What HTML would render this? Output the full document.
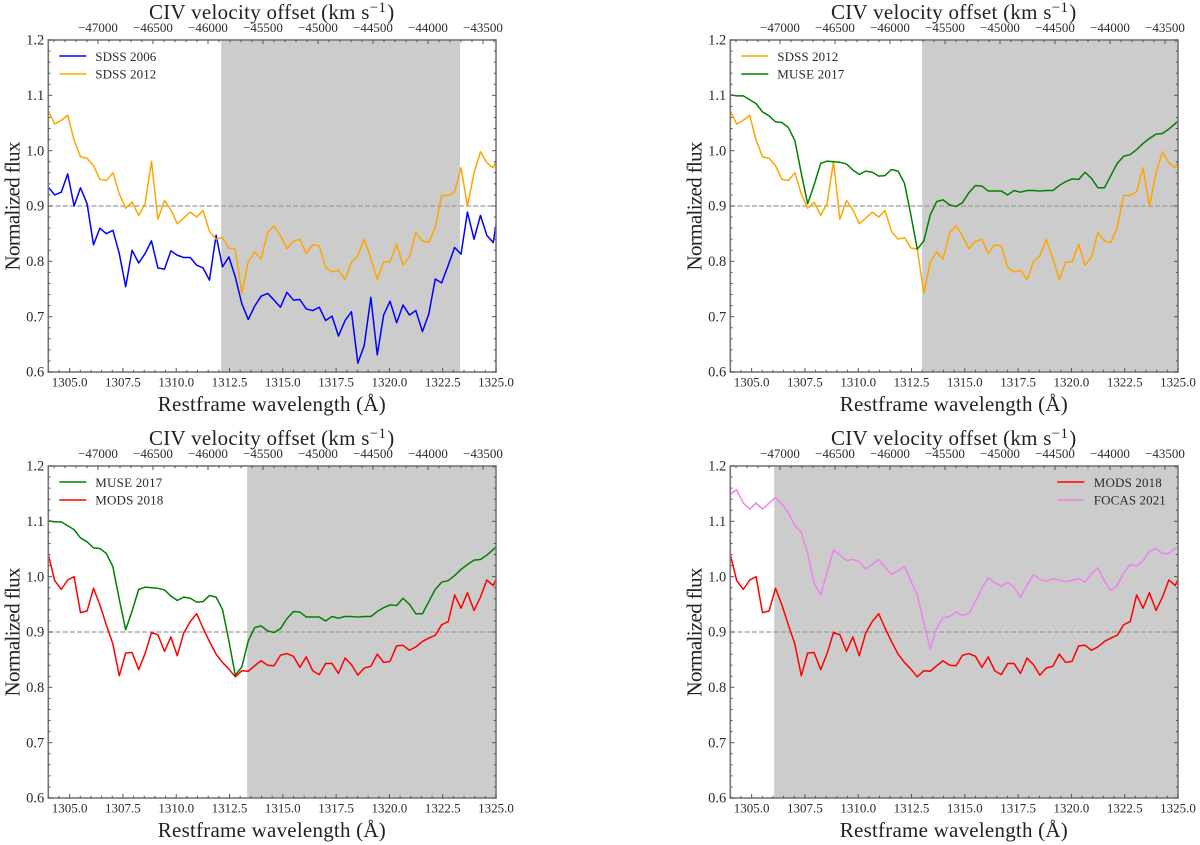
<!DOCTYPE html>
<html lang="en">
<head>
<meta charset="utf-8">
<title>CIV velocity offset spectra comparison</title>
<style>
  html, body { margin: 0; padding: 0; background: #fff; }
  svg { display: block; }
  text { font-family: "Liberation Serif", serif; fill: #222; }
  .title, .xlabel, .ylabel { font-size: 21px; }
  .legend-text { font-size: 13px; fill: #2a2a2a; }
</style>
</head>
<body>
<svg id="figure" xmlns="http://www.w3.org/2000/svg" width="1200" height="845" viewBox="0 0 1200 845">

  <g class="panel" transform="translate(48.3,40)">
    <g class="plot"></g>
    <text class="title" x="100.7" y="-21" textLength="237">CIV velocity offset (km s<tspan dy="-7" font-size="15">−1</tspan></text>
    <text class="title" x="339" y="-21">)</text>
    <text class="xlabel" x="223.5" y="371" text-anchor="middle" textLength="228">Restframe wavelength (Å)</text>
    <text class="ylabel" transform="translate(-29,166) rotate(-90)" text-anchor="middle" textLength="129">Normalized flux</text>
    <g>
      <line x1="11" x2="38" y1="16" y2="16" stroke="#0000ff" stroke-width="1.4"/>
      <text class="legend-text" x="47" y="21" textLength="61">SDSS 2006</text>
      <line x1="11" x2="38" y1="34" y2="34" stroke="#ffa500" stroke-width="1.4"/>
      <text class="legend-text" x="47" y="38.5" textLength="61">SDSS 2012</text>
    </g>
  </g>

  <g class="panel" transform="translate(730.3,40)">
    <g class="plot"></g>
    <text class="title" x="100.7" y="-21" textLength="237">CIV velocity offset (km s<tspan dy="-7" font-size="15">−1</tspan></text>
    <text class="title" x="339" y="-21">)</text>
    <text class="xlabel" x="223.5" y="371" text-anchor="middle" textLength="228">Restframe wavelength (Å)</text>
    <text class="ylabel" transform="translate(-29,166) rotate(-90)" text-anchor="middle" textLength="129">Normalized flux</text>
    <g>
      <line x1="11" x2="38" y1="16" y2="16" stroke="#ffa500" stroke-width="1.4"/>
      <text class="legend-text" x="47" y="21" textLength="61">SDSS 2012</text>
      <line x1="11" x2="38" y1="34" y2="34" stroke="#008000" stroke-width="1.4"/>
      <text class="legend-text" x="47" y="38.5" textLength="67">MUSE 2017</text>
    </g>
  </g>

  <g class="panel" transform="translate(48.3,466)">
    <g class="plot"></g>
    <text class="title" x="100.7" y="-21" textLength="237">CIV velocity offset (km s<tspan dy="-7" font-size="15">−1</tspan></text>
    <text class="title" x="339" y="-21">)</text>
    <text class="xlabel" x="223.5" y="371" text-anchor="middle" textLength="228">Restframe wavelength (Å)</text>
    <text class="ylabel" transform="translate(-29,166) rotate(-90)" text-anchor="middle" textLength="129">Normalized flux</text>
    <g>
      <line x1="11" x2="38" y1="16" y2="16" stroke="#008000" stroke-width="1.4"/>
      <text class="legend-text" x="47" y="21" textLength="67">MUSE 2017</text>
      <line x1="11" x2="38" y1="34" y2="34" stroke="#ff0000" stroke-width="1.4"/>
      <text class="legend-text" x="47" y="38.5" textLength="68">MODS 2018</text>
    </g>
  </g>

  <g class="panel" transform="translate(730.3,466)">
    <g class="plot"></g>
    <text class="title" x="100.7" y="-21" textLength="237">CIV velocity offset (km s<tspan dy="-7" font-size="15">−1</tspan></text>
    <text class="title" x="339" y="-21">)</text>
    <text class="xlabel" x="223.5" y="371" text-anchor="middle" textLength="228">Restframe wavelength (Å)</text>
    <text class="ylabel" transform="translate(-29,166) rotate(-90)" text-anchor="middle" textLength="129">Normalized flux</text>
    <g>
      <line x1="327" x2="354" y1="16" y2="16" stroke="#ff0000" stroke-width="1.4"/>
      <text class="legend-text" x="363.5" y="21" textLength="68">MODS 2018</text>
      <line x1="327" x2="354" y1="34" y2="34" stroke="#ee82ee" stroke-width="1.4"/>
      <text class="legend-text" x="363.5" y="38.5" textLength="72">FOCAS 2021</text>
    </g>
  </g>
</svg>

<script>
const wavelengths = [
  1304.00,1304.30,1304.61,1304.91,1305.21,1305.51,1305.82,1306.12,1306.42,1306.72,
  1307.03,1307.33,1307.63,1307.93,1308.24,1308.54,1308.84,1309.14,1309.45,1309.75,
  1310.05,1310.35,1310.66,1310.96,1311.26,1311.56,1311.87,1312.17,1312.47,1312.77,
  1313.08,1313.38,1313.68,1313.98,1314.29,1314.59,1314.89,1315.19,1315.50,1315.80,
  1316.10,1316.40,1316.71,1317.01,1317.31,1317.61,1317.92,1318.22,1318.52,1318.82,
  1319.13,1319.43,1319.73,1320.03,1320.34,1320.64,1320.94,1321.24,1321.55,1321.85,
  1322.15,1322.45,1322.76,1323.06,1323.36,1323.66,1323.97,1324.27,1324.57,1324.87,
  1325.18
];
const sdss2006 = [
  .934,.920,.925,.958,.900,.933,.904,.830,.860,.850,
  .856,.814,.754,.820,.797,.814,.837,.788,.786,.819,
  .811,.807,.807,.793,.788,.766,.847,.790,.808,.772,
  .723,.695,.719,.737,.742,.730,.717,.744,.730,.731,
  .714,.711,.717,.693,.701,.665,.693,.709,.616,.648,
  .735,.631,.703,.728,.689,.721,.703,.711,.673,.705,
  .768,.761,.793,.825,.813,.889,.840,.883,.847,.834,.911
];
const sdss2012 = [
  1.072,1.048,1.055,1.064,1.019,.989,.986,.973,.948,.946,
  .960,.922,.896,.907,.883,.904,.981,.876,.910,.893,
  .868,.878,.889,.880,.892,.854,.840,.843,.824,.822,
  .742,.799,.817,.804,.852,.864,.846,.823,.836,.840,
  .814,.830,.828,.789,.781,.784,.767,.799,.810,.840,
  .805,.767,.799,.799,.831,.793,.808,.852,.837,.834,
  .861,.919,.919,.926,.969,.900,.960,.998,.978,.969,.998
];
const muse2017 = [
  1.101,1.099,1.099,1.092,1.085,1.070,1.063,1.052,1.051,1.042,
  1.018,.959,.904,.938,.977,.981,.980,.979,.976,.965,
  .957,.963,.961,.954,.955,.966,.963,.941,.884,.822,
  .837,.884,.908,.911,.902,.899,.906,.924,.937,.936,
  .927,.927,.927,.920,.928,.925,.928,.928,.927,.928,
  .928,.937,.944,.949,.948,.961,.950,.933,.933,.955,
  .977,.990,.993,1.002,1.013,1.022,1.030,1.031,1.039,1.049,1.060
];
const mods2018 = [
  1.040,.993,.977,.994,1.000,.935,.938,.979,.949,.913,
  .878,.821,.862,.863,.832,.861,.899,.895,.865,.891,
  .857,.898,.919,.933,.907,.883,.860,.845,.833,.819,
  .830,.829,.839,.848,.840,.839,.858,.861,.856,.836,
  .855,.830,.823,.843,.843,.825,.853,.841,.822,.835,
  .838,.860,.845,.847,.875,.876,.867,.873,.883,.889,
  .894,.913,.919,.967,.943,.971,.939,.963,.994,.984,1.010
];
const focas2021 = [
  1.149,1.157,1.133,1.122,1.133,1.122,1.133,1.143,1.131,1.116,
  1.092,1.080,1.042,.988,.967,1.008,1.048,1.039,1.029,1.031,
  1.027,1.014,1.022,1.031,1.017,1.004,1.011,1.019,.992,.967,
  .916,.869,.907,.926,.928,.936,.930,.933,.955,.979,
  .998,.989,.983,.990,.981,.963,.985,1.004,.995,.992,
  .996,.994,.991,.993,.997,.990,1.005,1.016,.992,.975,
  .984,1.007,1.022,1.019,1.029,1.046,1.051,1.042,1.042,1.051,1.053
];

const panelOneSeries = [sdss2006, sdss2012];
const panelTwoSeries = [sdss2012, muse2017];
const panelThreeSeries = [muse2017, mods2018];
const panelFourSeries = [mods2018, focas2021];
const panelOneColors = ['#0000ff', '#ffa500'];
const panelTwoColors = ['#ffa500', '#008000'];
const panelThreeColors = ['#008000', '#ff0000'];
const panelFourColors = ['#ff0000', '#ee82ee'];
const shadeStarts = [1312.11, 1313.00, 1313.33, 1306.06];
const shadeEnds = [1323.31, 1325.00, 1325.00, 1325.00];

const wavelengthTicks = [1305, 1307.5, 1310, 1312.5, 1315, 1317.5, 1320, 1322.5, 1325];
const wavelengthTickLabels = ['1305.0', '1307.5', '1310.0', '1312.5', '1315.0', '1317.5', '1320.0', '1322.5', '1325.0'];
const fluxTicks = [0.6, 0.7, 0.8, 0.9, 1.0, 1.1, 1.2];
const fluxTickLabels = ['0.6', '0.7', '0.8', '0.9', '1.0', '1.1', '1.2'];
const velocityTicks = [-47000, -46500, -46000, -45500, -45000, -44500, -44000, -43500];
const velocityTickLabels = ['−47000', '−46500', '−46000', '−45500', '−45000', '−44500', '−44000', '−43500'];
const referenceFlux = 0.9;

const plotWidth = 447.7;
const plotHeight = 332;
const xMin = 1304;
const xMax = 1325;
const yMin = 0.6;
const yMax = 1.2;
const svgNS = 'http://www.w3.org/2000/svg';

function xScale(wavelength) {
  return (wavelength - xMin) / (xMax - xMin) * plotWidth;
}
function yScale(flux) {
  return plotHeight - (flux - yMin) / (yMax - yMin) * plotHeight;
}
function velocityScale(velocity) {
  return 49.7 + (velocity + 47000) * 0.11;
}
function make(tag, attrs, parent) {
  const node = document.createElementNS(svgNS, tag);
  for (const key in attrs) node.setAttribute(key, attrs[key]);
  parent.appendChild(node);
  return node;
}
function tickLine(parent, x1, y1, x2, y2) {
  const tick = make('line', { x1: x1, y1: y1, x2: x2, y2: y2, stroke: '#555', 'stroke-width': 1 }, parent);
  
  
}
function tickText(parent, x, y, anchor, content, size) {
  const label = make('text', { x: x, y: y, 'text-anchor': anchor, 'font-size': size, style: 'fill:#2a2a2a' }, parent);
  
  
  label.textContent = content;
}

const panelSeries = [panelOneSeries, panelTwoSeries, panelThreeSeries, panelFourSeries];
const panelColors = [panelOneColors, panelTwoColors, panelThreeColors, panelFourColors];
const defs = make('defs', {}, document.getElementById('figure'));
const clip = make('clipPath', { id: 'plot-clip' }, defs);
make('rect', { x: 0, y: 0, width: plotWidth, height: plotHeight }, clip);

document.querySelectorAll('.plot').forEach(function (plot, p) {
  const shade = make('rect', {
    x: xScale(shadeStarts[p]), y: 0,
    width: xScale(shadeEnds[p]) - xScale(shadeStarts[p]), height: plotHeight,
    fill: '#cccccc'
  }, plot);
  
  

  const refLine = make('line', {
    x1: 0, x2: plotWidth, y1: yScale(referenceFlux), y2: yScale(referenceFlux),
    stroke: '#9a9a9a', 'stroke-width': 1.3, 'stroke-dasharray': '5 2.2'
  }, plot);
  
  

  const marks = make('g', { 'clip-path': 'url(#plot-clip)' }, plot);
  
  
  panelSeries[p].forEach(function (values, s) {
    let d = '';
    values.forEach(function (value, i) {
      d += (i ? 'L' : 'M') + xScale(wavelengths[i]).toFixed(2) + ' ' + yScale(value).toFixed(2);
    });
    const path = make('path', {
      d: d, fill: 'none', stroke: panelColors[p][s], 'stroke-width': 1.5, 'stroke-linejoin': 'round'
    }, marks);
    
    
  });

  const frame = make('rect', {
    x: 0, y: 0, width: plotWidth, height: plotHeight, fill: 'none', stroke: '#777', 'stroke-width': 1.6
  }, plot);
  
  

  const ticks = make('g', {}, plot);
  
  

  wavelengthTicks.forEach(function (value, i) {
    const x = xScale(value);
    tickLine(ticks, x, plotHeight, x, plotHeight - 4);
    tickText(ticks, x, plotHeight + 14.5, 'middle', wavelengthTickLabels[i], 13);
  });
  for (let w = xMin; w <= xMax; w += 0.5) {
    if (w % 2.5 !== 0) tickLine(ticks, xScale(w), plotHeight, xScale(w), plotHeight - 2.2);
  }

  fluxTicks.forEach(function (value, i) {
    const y = yScale(value);
    tickLine(ticks, 0, y, 4, y);
    tickLine(ticks, plotWidth, y, plotWidth - 4, y);
    tickText(ticks, -4, y + 4.7, 'end', fluxTickLabels[i], 14.5);
  });
  for (let f = 0; f <= 30; f++) {
    if (f % 5 !== 0) {
      const y = yScale(yMin + f * 0.02);
      tickLine(ticks, 0, y, 2.2, y);
      tickLine(ticks, plotWidth, y, plotWidth - 2.2, y);
    }
  }

  velocityTicks.forEach(function (value, i) {
    const x = velocityScale(value);
    tickLine(ticks, x, 0, x, 4);
    tickText(ticks, x, -8, 'middle', velocityTickLabels[i], 13);
  });
  for (let v = -47400; v <= -43400; v += 100) {
    if (v % 500 !== 0) tickLine(ticks, velocityScale(v), 0, velocityScale(v), 2.2);
  }
});
</script>
</body>
</html>
